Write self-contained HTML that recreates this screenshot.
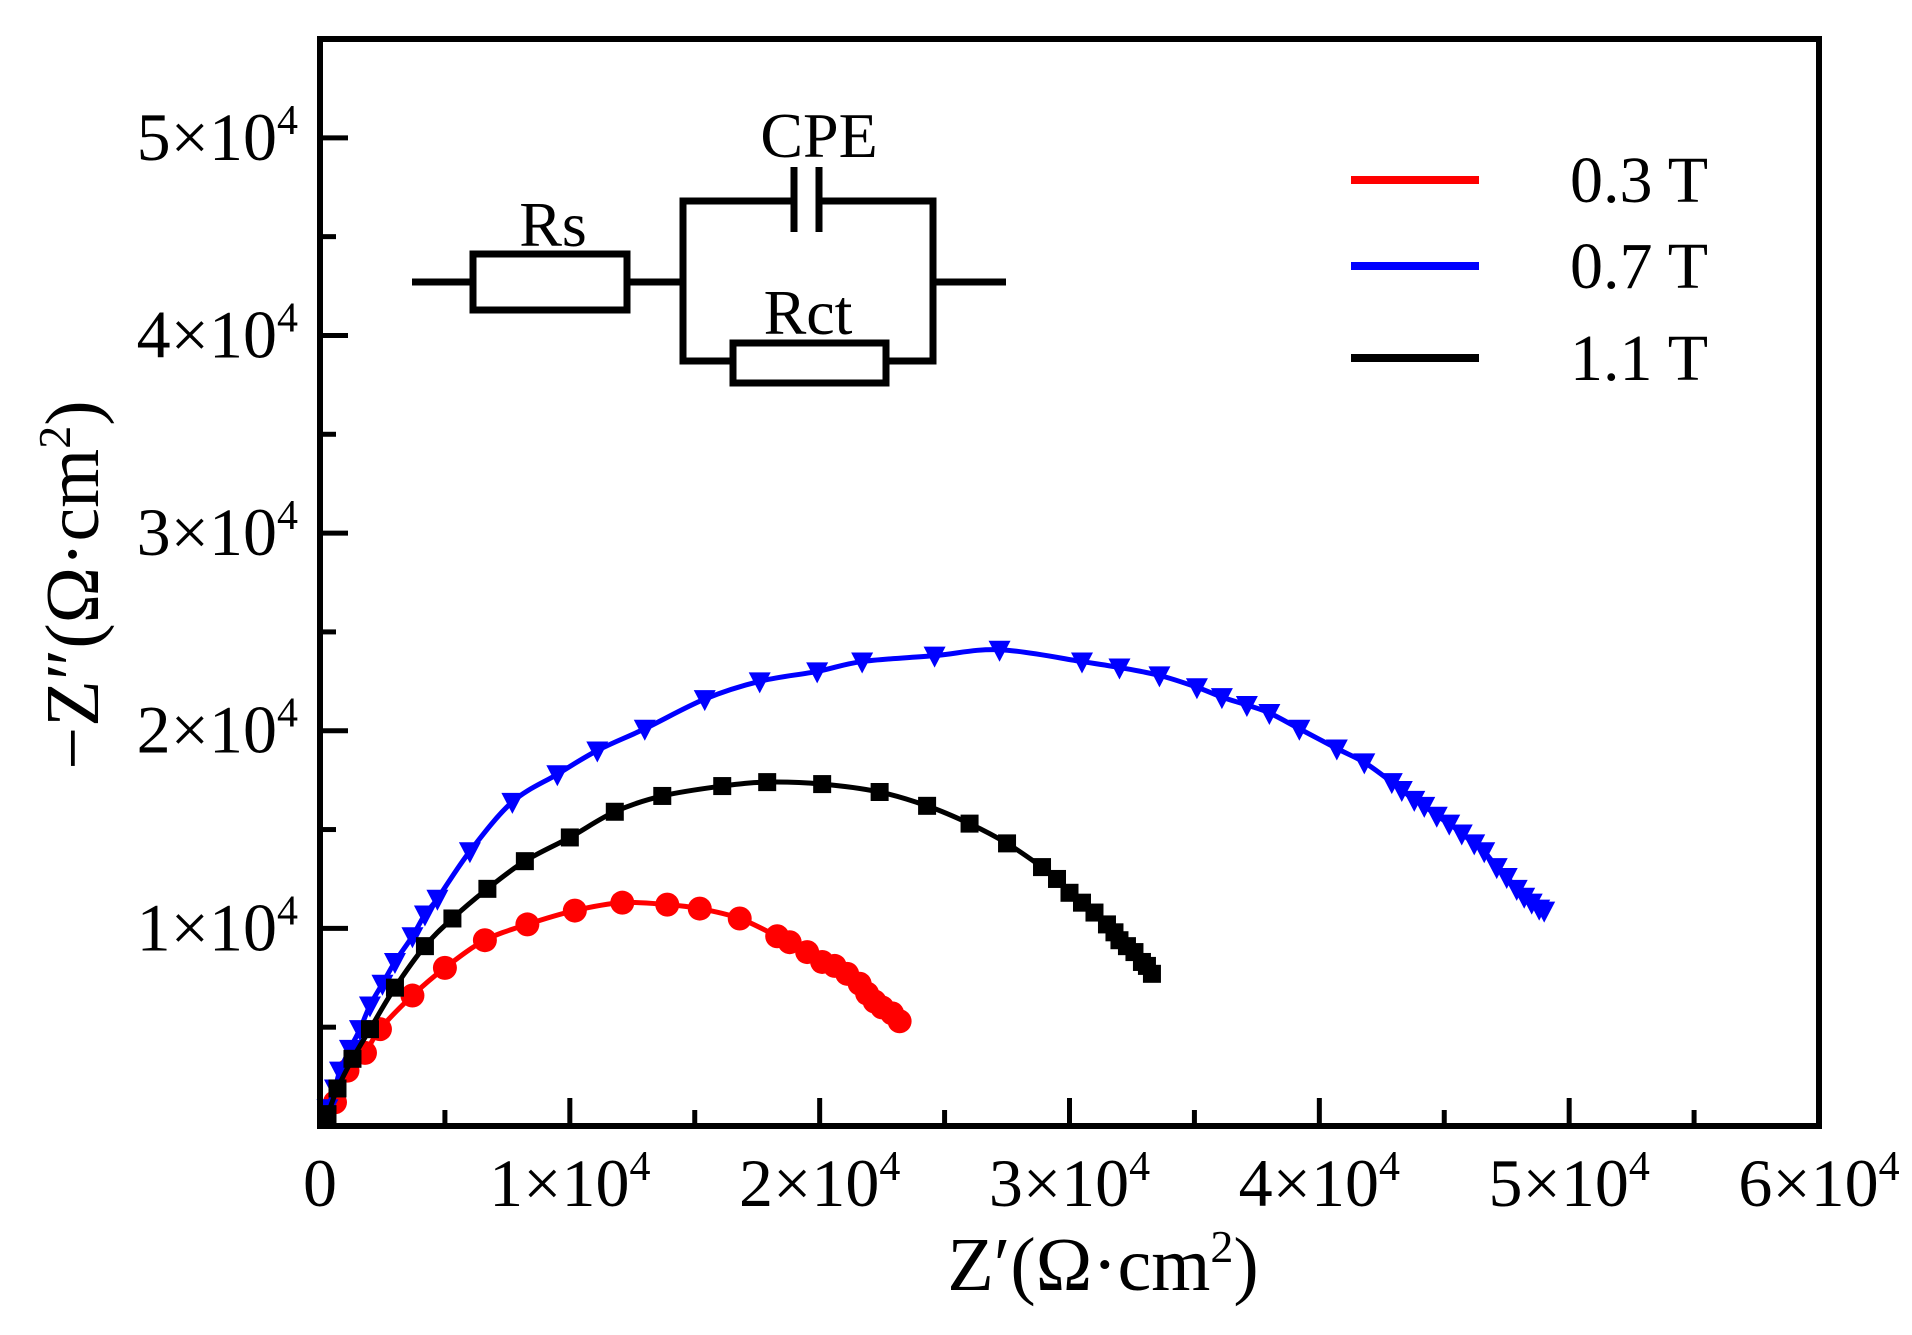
<!DOCTYPE html>
<html><head><meta charset="utf-8"><style>
body{margin:0;background:#fff;}
svg{display:block;font-family:"Liberation Serif",serif;}
</style></head><body>
<svg id="c" width="1912" height="1335" viewBox="0 0 1912 1335" xmlns="http://www.w3.org/2000/svg">
<g id="marks"></g>
<g id="axes"></g>
<g stroke="#000" stroke-width="7" fill="none">
<line x1="412" y1="282" x2="473" y2="282"/>
<rect x="473" y="254" width="154" height="56"/>
<line x1="627" y1="282" x2="683" y2="282"/>
<polyline points="794,201 683,201 683,361 733,361"/>
<polyline points="819,201 933,201 933,361 886,361"/>
<line x1="794" y1="167" x2="794" y2="232"/>
<line x1="819" y1="167" x2="819" y2="232"/>
<rect x="733" y="343" width="153" height="40"/>
<line x1="933" y1="282" x2="1006" y2="282"/>
</g>
<g font-size="64" fill="#000">
<text x="553" y="246" text-anchor="middle">Rs</text>
<text x="819" y="157" text-anchor="middle">CPE</text>
<text x="808" y="334" text-anchor="middle">Rct</text>
</g>
<g font-size="66">
<line x1="1351" y1="180" x2="1479" y2="180" stroke="#f00" stroke-width="8"/>
<text x="1570" y="202">0.3 T</text>
<line x1="1351" y1="266" x2="1479" y2="266" stroke="#00f" stroke-width="8"/>
<text x="1570" y="288">0.7 T</text>
<line x1="1351" y1="358" x2="1479" y2="358" stroke="#000" stroke-width="8"/>
<text x="1570" y="380">1.1 T</text>
</g>
<text x="1103" y="1290" font-size="76" text-anchor="middle">Z′(Ω·cm<tspan dy="-28" font-size="46">2</tspan><tspan dy="28">)</tspan></text>
<text transform="translate(98,585) rotate(-90)" font-size="76" text-anchor="middle">−Z″(Ω·cm<tspan dy="-28" font-size="46">2</tspan><tspan dy="28">)</tspan></text>
</svg>
<script>
const xTicks=[0,1,2,3,4,5,6];
const yTicks=[1,2,3,4,5];
const redX=[0.06,0.11,0.18,0.24,0.37,0.50,0.66,0.83,1.02,1.21,1.39,1.52,1.68,1.83,1.88,1.95,2.01,2.06,2.11,2.16,2.19,2.22,2.25,2.29,2.32];
const redY=[0.12,0.28,0.37,0.49,0.66,0.80,0.94,1.02,1.09,1.13,1.12,1.10,1.05,0.96,0.93,0.88,0.83,0.81,0.77,0.72,0.67,0.63,0.60,0.57,0.53];
const blackX=[0.03,0.07,0.13,0.20,0.30,0.42,0.53,0.67,0.82,1.00,1.18,1.37,1.61,1.79,2.01,2.24,2.43,2.60,2.75,2.89,2.95,3.00,3.05,3.10,3.15,3.18,3.20,3.23,3.26,3.29,3.31,3.33];
const blackY=[0.06,0.19,0.34,0.49,0.70,0.91,1.05,1.20,1.34,1.46,1.59,1.67,1.72,1.74,1.73,1.69,1.62,1.53,1.43,1.31,1.25,1.18,1.13,1.08,1.02,0.98,0.94,0.91,0.88,0.83,0.81,0.77];
const blueX=[0.03,0.06,0.08,0.12,0.16,0.20,0.25,0.30,0.37,0.42,0.47,0.60,0.77,0.95,1.11,1.30,1.54,1.76,1.99,2.17,2.46,2.72,3.05,3.20,3.36,3.51,3.61,3.71,3.80,3.92,4.07,4.18,4.29,4.33,4.38,4.42,4.47,4.52,4.57,4.62,4.66,4.71,4.75,4.79,4.82,4.85,4.88,4.90];
const blueY=[0.09,0.19,0.28,0.39,0.49,0.61,0.72,0.83,0.96,1.07,1.15,1.39,1.64,1.78,1.90,2.01,2.16,2.25,2.30,2.35,2.38,2.41,2.35,2.32,2.28,2.22,2.17,2.13,2.09,2.01,1.91,1.84,1.74,1.70,1.65,1.62,1.57,1.53,1.48,1.43,1.39,1.31,1.26,1.20,1.16,1.13,1.10,1.09];
const X0=320,X1=1819,Y0=1126,Y1=39,XMAX=6,YMAX=5.5;
const sx=v=>X0+(X1-X0)*v/XMAX, sy=v=>Y0-(Y0-Y1)*v/YMAX;
const NS='http://www.w3.org/2000/svg';
function mk(tag,attrs,parent){const e=document.createElementNS(NS,tag);for(const k in attrs)e.setAttribute(k,attrs[k]);parent.appendChild(e);return e;}
const marks=document.getElementById('marks'),axes=document.getElementById('axes');
function smooth(xs,ys){let d='M'+sx(xs[0])+','+sy(ys[0]);for(let i=0;i<xs.length-1;i++){const p0=[sx(xs[Math.max(i-1,0)]),sy(ys[Math.max(i-1,0)])],p1=[sx(xs[i]),sy(ys[i])],p2=[sx(xs[i+1]),sy(ys[i+1])],p3=[sx(xs[Math.min(i+2,xs.length-1)]),sy(ys[Math.min(i+2,xs.length-1)])];d+=' C'+(p1[0]+(p2[0]-p0[0])/6)+','+(p1[1]+(p2[1]-p0[1])/6)+' '+(p2[0]-(p3[0]-p1[0])/6)+','+(p2[1]-(p3[1]-p1[1])/6)+' '+p2[0]+','+p2[1];}return d;}
function series(xs,ys,color,shape,name){
 const p=mk('path',{d:smooth([0].concat(xs),[0].concat(ys)),fill:'none',stroke:color,'stroke-width':5},marks);
 
 
 xs.forEach((x,i)=>{const cx=sx(x),cy=sy(ys[i]);let m;
  if(shape==='c')m=mk('circle',{cx:cx,cy:cy,r:12,fill:color},marks);
  else if(shape==='s')m=mk('rect',{x:cx-9,y:cy-9,width:18,height:18,fill:color},marks);
  else m=mk('polygon',{points:(cx-11)+','+(cy-9)+' '+(cx+11)+','+(cy-9)+' '+cx+','+(cy+12),fill:color},marks);
  
  
 });
}
series(redX,redY,'#f00','c','series-0.3t');
series(blueX,blueY,'#00f','t','series-0.7t');
series(blackX,blackY,'#000','s','series-1.1t');
const frame=mk('rect',{x:X0,y:Y1,width:X1-X0,height:Y0-Y1,fill:'none',stroke:'#000','stroke-width':6},axes);


for(let v=0.5;v<XMAX;v+=0.5){const maj=Math.abs(v-Math.round(v))<1e-6;const t=mk('line',{x1:sx(v),x2:sx(v),y1:Y0,y2:Y0-(maj?28:16),stroke:'#000','stroke-width':5},axes);
 
 }
for(let v=0.5;v<YMAX;v+=0.5){const maj=Math.abs(v-Math.round(v))<1e-6;const t=mk('line',{x1:X0,x2:X0+(maj?28:16),y1:sy(v),y2:sy(v),stroke:'#000','stroke-width':5},axes);
 
 }
function lab(txt,x,y,anchor,name){const t=mk('text',{x:x,y:y,'text-anchor':anchor,'font-size':68},axes);
 
 
 if(txt===0){t.textContent='0';return;}
 t.appendChild(document.createTextNode(txt+'×10'));const s=mk('tspan',{dy:-26,'font-size':42},t);s.textContent='4';}
xTicks.forEach(v=>lab(v,sx(v),1206,'middle','x-tick-label'));
yTicks.forEach(v=>lab(v,298,sy(v)+22,'end','y-tick-label'));
</script>
</body></html>
